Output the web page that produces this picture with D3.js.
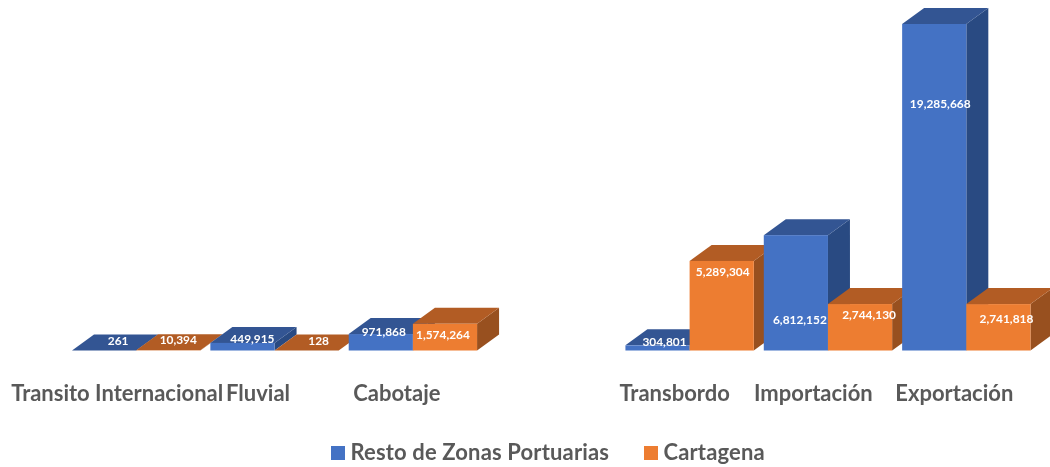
<!DOCTYPE html>
<html><head><meta charset="utf-8">
<script src="https://cdn.jsdelivr.net/npm/d3@7"></script>
<style>
html,body{margin:0;padding:0;background:#fff;overflow:hidden}
svg{display:block;filter:blur(0.4px)}
text{font-family:Lato,"Noto Sans",sans-serif;font-weight:700}
</style></head><body><svg id="c" width="1050" height="467"></svg>
<script>
const categories = ["Transito Internacional","Fluvial","Cabotaje"," ","Transbordo","Importación","Exportación"];
const seriesNames = ["Resto de Zonas Portuarias","Cartagena"];
const restoValues = [261,449915,971868,null,304801,6812152,19285668];
const cartagenaValues = [10394,128,1574264,null,5289304,2744130,2741818];

// presentation only
const palette = [
  {front:"#4472C4",top:"#335593",side:"#294A82"},
  {front:"#ED7D31",top:"#B25C24",side:"#98501F"}
];
const depth = {dx:22,dy:-16};
const restoNudge = [[14,-11],[10,-5],[3,-3],null,[7,-5],[4,84],[6,79]];
const cartagenaNudge = [[10,-11],[12,-11],[-2,10],null,[1,10],[9,10],[8,14]];
const tickNudge = [-19,-16.5,-16,0,-15,-14.6,-12];

const svg = d3.select("#c");
const x = d3.scaleBand().domain(categories).range([67,1035.5]).padding(0);
const sub = d3.scaleBand().domain(seriesNames).range([5,x.bandwidth()-5]).padding(0);
const y = d3.scaleLinear().domain([0,d3.max(restoValues)]).range([350.5,24]);
const fmt = d3.format(",");

const rows = [];
categories.forEach((c,i)=>{
  [restoValues,cartagenaValues].forEach((vals,s)=>{
    if(vals[i]!=null) rows.push({c,s,v:vals[i],n:(s?cartagenaNudge:restoNudge)[i]});
  });
});

const bars = svg.append("g").selectAll("g").data(rows).join("g");
const L = d=>x(d.c)+sub(seriesNames[d.s]);
const R = d=>L(d)+sub.bandwidth();
const T = d=>y(d.v);
const B = ()=>y(0);
const path = pts=>"M"+pts.map(p=>p.join(",")).join("L")+"Z";

bars.append("path")
  .attr("d",d=>path([[R(d),T(d)],[R(d)+depth.dx,T(d)+depth.dy],[R(d)+depth.dx,B()+depth.dy],[R(d),B()]]))
  .attr("fill",d=>palette[d.s].side);
bars.append("path")
  .attr("d",d=>path([[L(d),T(d)],[L(d)+depth.dx,T(d)+depth.dy],[R(d)+depth.dx,T(d)+depth.dy],[R(d),T(d)]]))
  .attr("fill",d=>palette[d.s].top);
bars.append("rect")
  .attr("x",L).attr("y",T).attr("width",sub.bandwidth()).attr("height",d=>B()-T(d))
  .attr("fill",d=>palette[d.s].front);

svg.append("g").selectAll("text").data(rows).join("text")
  .attr("x",d=>L(d)+sub.bandwidth()/2+d.n[0])
  .attr("y",d=>T(d)+d.n[1]+1)
  .attr("dy","0.35em")
  .attr("text-anchor","middle")
  .attr("font-size",11.9)
  .attr("fill","#fff")
  .text(d=>fmt(d.v));

const axis = svg.append("g").attr("transform","translate(0,401)")
  .call(d3.axisBottom(x).tickSize(0).tickPadding(0));
axis.select(".domain").remove();
axis.selectAll("text")
  .attr("dy",0).attr("y",0).attr("dx",(d,i)=>tickNudge[i])
  .attr("font-size",22).attr("fill","#595959")
  .style("font-family","Lato,'Noto Sans',sans-serif").style("font-weight",700);

const legendX = [331,644];
const leg = svg.append("g").selectAll("g").data(seriesNames).join("g")
  .attr("transform",(d,i)=>`translate(${legendX[i]},446)`);
leg.append("rect").attr("width",14).attr("height",14).attr("fill",(d,i)=>palette[i].front);
leg.append("text").attr("x",19.5).attr("y",14).attr("font-size",22).attr("letter-spacing",0.15).attr("fill","#595959").text(d=>d);
</script></body></html>
